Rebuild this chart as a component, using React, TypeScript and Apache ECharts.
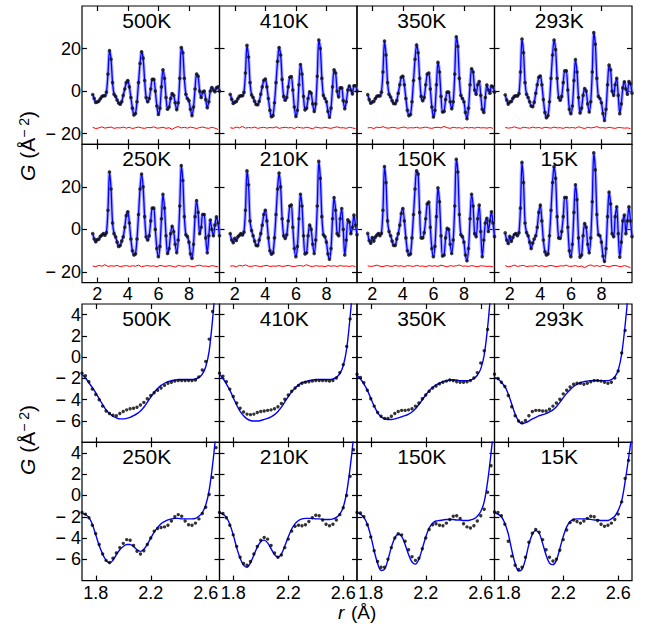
import React, { useEffect, useRef } from "react";
import * as echarts from "echarts";

// ---------- labels ----------
const TEMPS = ["500K", "410K", "350K", "293K", "250K", "210K", "150K", "15K"];

// ---------- tick values ----------
const TOP_X_TICKS = [2, 4, 6, 8];
const TOP_Y_TICKS = [-20, 0, 20];
const LOW_X_TICKS = [1.8, 2.2, 2.6];
const LOW_Y_TICKS = [-6, -4, -2, 0, 2, 4];
const TOP_X_RANGE = [1, 10];
const TOP_Y_RANGE = [-25, 40];
const LOW_X_RANGE = [1.7, 2.7];
const LOW_Y_RANGE = [-8, 5];

// ---------- full-range G(r), r = 1.7 .. 10.0 step 0.1 ----------
const TOP_R0 = 1.7;
const TOP_DR = 0.1;
const G_500K = [
  -1.6, -3.5, -5.3, -5.1, -4.7, -3.6, -2.6, -2.2, -2.2, -0.5,
  8, 19, 15, 4, -1.5, -2.5, -4.2, -5.6, -6.2, -5,
  -2, 1, 4, 5, 2, -3, -8, -11.2, -10.5, -5,
  4, 13, 18.5, 15.5, 5, -3, -5, -3.5, 1, 5.5,
  5.5, 0, -7, -11, -8, 2, 10, 6, -3, -8.5,
  -7.5, -3.5, -1.2, -2, -5.5, -8.7, -5.5, 6, 20.5, 18,
  6, -1.5, -3.5, -4.5, -8.5, -11.5, -7.5, 1, 8, 7,
  0, -3, -0.5, 0, -4, -7.8, -5, 0, 1.7, 0.5,
  -0.3, 1.5, 2, 0,
];
const G_410K = [
  -1.5, -3.8, -5.8, -5.2, -4.9, -3.6, -2.5, -2.2, -2.2, -0.6,
  8.5, 21.5, 16, 4, -1.8, -3, -4.8, -6.3, -6.4, -4.8,
  -1.5, 2, 5, 5.7, 2, -3.5, -9, -12, -11.5, -5.5,
  4, 14, 20.5, 17, 5.5, -2.5, -4.3, -3, 2, 6.5,
  6.8, 0.5, -7.5, -11.9, -9, 3, 12.5, 8, -2.5, -8.8,
  -8, -3.5, -0.3, -1, -6, -9.6, -6, 7, 24, 20,
  6, -2, -3.5, -5, -9.5, -12.3, -8, 2, 10, 8.5,
  0, -2.7, 1.5, 1.5, -4.5, -8.3, -5, 0.5, 2.4, 0.5,
  -1.3, 2.5, 2.5, 0,
];
const G_350K = [
  -1.6, -4, -5.7, -5.1, -4.8, -3.5, -2.5, -2.2, -2.3, -0.5,
  9, 23.5, 17, 4, -1.5, -2.8, -4.5, -5.8, -5.9, -4.5,
  -1, 3, 6.5, 7, 3, -3.5, -9, -11.5, -11, -5,
  5, 15, 21.7, 18, 6, -2.5, -4.5, -3, 3, 8,
  8.5, 1, -7.5, -12.2, -9, 3, 13.5, 9, -2.5, -9.8,
  -9.5, -4, -0.5, -0.5, -5, -8.3, -5, 8, 25.5, 21,
  6, -2, -3.5, -5, -10, -13, -8, 3, 10.5, 9,
  0.5, -1.5, 3, 4.5, -2, -8.5, -10, -3, 2.9, 0.5,
  -1, 2.4, 2, -0.5,
];
const G_293K = [
  -1.7, -4.2, -6.1, -5.1, -4.9, -3.4, -2.5, -2.2, -2.3, -1.2,
  9, 24.5, 18, 4, -1.5, -3, -5, -7, -7.3, -5.2,
  -1, 3, 6.5, 7.1, 3, -4, -10, -12.5, -11.5, -5,
  6, 17, 24, 19.5, 6, -3, -4.3, -2.5, 4, 9.5,
  9.5, 0.5, -8.5, -10.6, -7, 5, 14.8, 9, -3, -10.3,
  -8, -2, 1.2, 0, -6, -9.8, -5, 9, 27.5, 22,
  6, -2.5, -3.5, -5.5, -10.5, -13.8, -8.5, 3, 12.2, 10,
  0, -2, 3, 6, -2, -10.6, -6, 1.5, 4.4, 1,
  -1.5, 4.5, 3.5, -1,
];
const G_250K = [
  -1.9, -4.5, -5.8, -4.8, -4.6, -3.3, -2.7, -2.0, -2.7, -1.5,
  9, 27, 19, 3, -2, -3.5, -6, -8, -7.5, -5.5,
  -3.5, 1, 6.5, 8.3, 3, -4.5, -10, -12, -11.5, -4.5,
  7, 19, 26, 20, 6, -3.5, -5, -3, 4, 10,
  10, 0, -9, -12.8, -8, 5, 16.5, 10, -3, -11.3,
  -9, -2, 1.5, -1, -7, -10.9, -5, 11, 30, 23,
  6, -2.5, -3.4, -6, -11.5, -13.6, -7, 6, 13.5, 8,
  -2, 1, 7, 7, -4, -11, -3, 4.4, 0, -3,
  2, 5.9, 3, -3,
];
const G_210K = [
  -1.9, -5, -6.2, -4.2, -5.2, -3.5, -2.8, -2.0, -2.6, -1.3,
  9, 27.5, 21, 4, -0.5, -3, -5.5, -7.5, -7.6, -5,
  -2, 2, 7, 9, 4, -4, -10, -11.6, -11, -4,
  7, 19, 26.5, 20, 5, -3, -4.2, -2.5, 4, 11,
  11.5, 1, -9, -12.8, -8, 5, 16.5, 11, -3, -11.5,
  -11, -3, 2, 0, -7, -11.3, -5, 11, 32, 24,
  6, -2.5, -3.4, -6, -11.5, -14, -9, 5, 15, 9,
  -2, -3, 5, 9.8, 0, -12, -5, 4.5, 3.5, -2,
  1, 6.7, 2, -2.5,
];
const G_150K = [
  -1.8, -5.2, -6.5, -3.8, -5.5, -3.6, -2.7, -1.9, -2.9, -1.8,
  9, 29.5, 22, 4, -1, -3, -5.5, -7.5, -7.5, -4.5,
  -2, 2, 7.5, 9.8, 4, -4, -10, -12, -11.5, -4,
  7, 19, 27.5, 26, 8, -4, -4, -1.5, 5, 12,
  12.8, 1, -9, -12.8, -8, 6, 19.5, 13, -3, -12.5,
  -12, -4, 0.5, 0, -7, -11.3, -5, 11, 33, 27,
  7, -2.5, -3.4, -6, -12, -14.7, -9, 5, 16.5, 11,
  -2, -3.4, 5, 11.4, -1, -12.8, -5, 3, 5.2, -1,
  4, 8.3, 3, -3.4,
];
const G_15K = [
  -1.6, -5.0, -6.6, -3.3, -5.6, -3.8, -2.4, -1.9, -2.9, -1.6,
  10, 31.5, 22, 3, -1.5, -3, -6, -9, -6.5, -4.5,
  -3, 1, 8, 11.4, 4, -5, -10.5, -12, -11.5, -3,
  9, 22, 29.5, 24, 6, -4, -4.2, -1, 6, 15,
  15, 1, -10, -12.8, -7, 8, 21, 14, -4, -13,
  -12, -3, 2.8, 1, -7, -11, -4, 13, 36, 28,
  7, -2.5, -3, -6, -12.5, -15, -9, 6, 17.5, 12,
  -2, -3.4, 6, 10.6, -2, -13, -6, 4, 6.7, -2,
  4, 10.6, 4, -3.4,
];
const TOP_DATA = [G_500K, G_410K, G_350K, G_293K, G_250K, G_210K, G_150K, G_15K];

// ---------- difference curves (offset), r = 1.7 .. 9.9 step 0.2 ----------
const DIFF_R0 = 1.7;
const DIFF_DR = 0.2;
const DIFF_A = [
  -17.0, -17.6, -17.3, -16.8, -17.4, -17.1, -16.9, -17.5, -17.2, -17.3,
  -16.9, -17.4, -17.0, -17.6, -17.2, -16.9, -17.3, -17.5, -17.1, -17.2,
  -16.8, -17.4, -17.3, -17.0, -17.5, -17.2, -18.0, -17.1, -16.7, -17.3,
  -17.0, -17.4, -16.9, -17.2, -17.6, -17.1, -16.9, -17.3, -17.5, -17.0,
  -17.4, -18.0,
];
const DIFF_B = [
  -17.2, -17.5, -16.9, -17.3, -16.6, -17.4, -17.1, -17.3, -16.9, -17.5,
  -17.2, -17.0, -17.4, -17.1, -17.3, -16.8, -17.5, -17.2, -17.0, -17.3,
  -17.1, -17.6, -16.9, -17.2, -17.4, -17.0, -17.3, -17.7, -16.9, -17.2,
  -17.4, -17.0, -17.3, -17.5, -17.1, -16.8, -17.3, -17.2, -17.5, -17.0,
  -17.3, -17.6,
];
const DIFF_C = [
  -17.3, -17.1, -17.6, -16.9, -17.2, -16.7, -17.3, -17.4, -17.0, -17.2,
  -17.5, -17.1, -16.9, -17.4, -17.2, -17.3, -17.0, -17.4, -17.2, -16.9,
  -17.3, -17.5, -17.1, -17.0, -17.3, -16.6, -17.2, -17.5, -17.0, -17.3,
  -17.2, -17.5, -17.0, -17.3, -17.1, -17.4, -17.0, -17.3, -17.2, -17.4,
  -17.1, -17.5,
];
const DIFF_D = [
  -17.1, -17.4, -17.2, -16.8, -17.3, -17.5, -17.0, -17.2, -17.4, -16.9,
  -17.3, -17.1, -17.5, -17.0, -17.2, -17.4, -16.9, -17.3, -17.2, -17.5,
  -17.0, -17.3, -17.1, -17.4, -16.8, -17.2, -17.6, -17.0, -17.3, -17.1,
  -16.7, -17.3, -17.2, -17.4, -17.0, -17.3, -17.5, -17.1, -17.2, -17.4,
  -17.3, -17.6,
];
const TOP_DIFF = [DIFF_A, DIFF_B, DIFF_C, DIFF_D, DIFF_B, DIFF_C, DIFF_D, DIFF_A];

// ---------- low-r detail, r = 1.700 .. 2.700 step 0.025 ----------
const LOW_R0 = 1.7;
const LOW_DR = 0.025;
const LOW_DATA_500K = [
  -1.5, -1.75, -2.3, -3.0, -3.5, -4.0, -4.6, -5.05, -5.3, -5.45,
  -5.5, -5.3, -5.1, -4.95, -4.85, -4.8, -4.7, -4.5, -4.25, -3.9,
  -3.6, -3.35, -3.1, -2.9, -2.65, -2.45, -2.35, -2.25, -2.2, -2.2,
  -2.2, -2.2, -2.2, -2.15, -1.85, -1.2, -0.4, 1.7, 4.3, 7.0,
  10,
];
const LOW_FIT_500K = [
  -1.6, -1.95, -2.4, -2.85, -3.35, -3.9, -4.45, -4.95, -5.3, -5.55,
  -5.7, -5.8, -5.8, -5.75, -5.65, -5.5, -5.3, -5.05, -4.7, -4.25,
  -3.75, -3.3, -2.95, -2.65, -2.45, -2.3, -2.2, -2.15, -2.1, -2.1,
  -2.1, -2.1, -2.1, -2.05, -1.9, -1.6, -0.9, 0.6, 3.6, 7.5,
  12,
];
const LOW_DATA_410K = [
  -1.5, -1.8, -2.3, -3.0, -3.7, -4.3, -4.8, -5.15, -5.35, -5.4,
  -5.35, -5.2, -5.1, -5.05, -5.0, -4.95, -4.85, -4.65, -4.35, -3.95,
  -3.55, -3.2, -2.9, -2.65, -2.45, -2.35, -2.3, -2.25, -2.2, -2.2,
  -2.2, -2.2, -2.25, -2.2, -1.95, -1.45, -0.7, 1.0, 3.6, 6.5,
  10,
];
const LOW_FIT_410K = [
  -1.6, -2.0, -2.5, -3.1, -3.8, -4.5, -5.1, -5.5, -5.8, -5.95,
  -6.0, -6.0, -5.95, -5.85, -5.75, -5.6, -5.4, -5.1, -4.7, -4.2,
  -3.7, -3.25, -2.9, -2.6, -2.4, -2.3, -2.2, -2.15, -2.1, -2.1,
  -2.1, -2.1, -2.1, -2.05, -1.9, -1.55, -0.8, 0.8, 3.8, 7.5,
  12,
];
const LOW_DATA_350K = [
  -1.6, -1.9, -2.4, -3.1, -3.9, -4.6, -5.2, -5.55, -5.75, -5.75,
  -5.55, -5.3, -5.1, -5.0, -5.0, -4.95, -4.85, -4.6, -4.3, -3.9,
  -3.55, -3.2, -2.9, -2.7, -2.5, -2.35, -2.25, -2.15, -2.2, -2.3,
  -2.35, -2.35, -2.3, -2.2, -1.95, -1.45, -0.55, 0.6, 2.6, 5.5,
  9,
];
const LOW_FIT_350K = [
  -1.7, -2.05, -2.5, -3.1, -3.85, -4.6, -5.2, -5.6, -5.8, -5.85,
  -5.85, -5.8, -5.7, -5.6, -5.5, -5.35, -5.15, -4.85, -4.45, -4.0,
  -3.55, -3.15, -2.85, -2.6, -2.45, -2.3, -2.2, -2.15, -2.15, -2.15,
  -2.2, -2.2, -2.2, -2.15, -2.0, -1.7, -1.1, 0.2, 2.8, 6.5,
  11,
];
const LOW_DATA_293K = [
  -1.6, -2.0, -2.35, -2.75, -3.6, -4.65, -5.5, -6.0, -6.15, -5.95,
  -5.5, -5.1, -5.0, -5.0, -5.05, -5.05, -4.9, -4.6, -4.3, -3.95,
  -3.45, -3.1, -2.8, -2.55, -2.45, -2.45, -2.55, -2.45, -2.3, -2.2,
  -2.2, -2.25, -2.35, -2.45, -2.35, -1.95, -1.3, 0.4, 2.5, 5.5,
  9,
];
const LOW_FIT_293K = [
  -1.9, -2.05, -2.35, -2.75, -3.45, -4.4, -5.35, -6.0, -6.25, -6.15,
  -6.0, -5.8, -5.65, -5.5, -5.4, -5.3, -5.15, -4.95, -4.65, -4.25,
  -3.8, -3.4, -3.05, -2.75, -2.55, -2.4, -2.3, -2.25, -2.2, -2.2,
  -2.2, -2.2, -2.2, -2.2, -2.1, -1.85, -1.2, 0.3, 3.0, 6.5,
  11,
];
const LOW_DATA_250K = [
  -1.6, -1.75, -2.1, -2.8, -3.6, -4.6, -5.5, -6.1, -6.3, -5.9,
  -5.4, -4.9, -4.5, -4.15, -4.2, -4.7, -5.25, -5.5, -5.2, -4.6,
  -4.0, -3.35, -3.1, -3.0, -2.95, -2.8, -2.4, -2.0, -1.8, -1.95,
  -2.4, -2.75, -2.8, -2.6, -2.2, -1.7, -1.1, 0.1, 1.7, 4.5,
  8,
];
const LOW_FIT_250K = [
  -1.65, -1.8, -2.05, -2.7, -3.7, -4.7, -5.5, -6.1, -6.35, -6.1,
  -5.55, -5.1, -4.8, -4.6, -4.6, -4.8, -5.1, -5.25, -5.05, -4.6,
  -4.0, -3.45, -3.0, -2.65, -2.45, -2.3, -2.2, -2.15, -2.15, -2.2,
  -2.2, -2.2, -2.2, -2.15, -1.95, -1.6, -0.9, 0.5, 2.9, 6.0,
  10,
];
const LOW_DATA_210K = [
  -1.6, -1.7, -2.1, -2.8, -3.7, -4.8, -5.8, -6.4, -6.55, -6.2,
  -5.5, -4.8, -4.2, -3.95, -4.1, -4.7, -5.4, -5.8, -5.6, -4.9,
  -4.1, -3.35, -2.9, -2.8, -2.85, -2.75, -2.45, -2.1, -1.85, -1.9,
  -2.3, -2.7, -2.85, -2.7, -2.3, -1.8, -1.15, 0.0, 1.8, 4.3,
  7.5,
];
const LOW_FIT_210K = [
  -1.6, -1.75, -2.05, -2.7, -3.7, -4.9, -5.9, -6.55, -6.75, -6.35,
  -5.6, -4.85, -4.35, -4.2, -4.45, -5.0, -5.55, -5.8, -5.5, -4.75,
  -3.9, -3.15, -2.65, -2.35, -2.2, -2.15, -2.15, -2.15, -2.2, -2.2,
  -2.25, -2.25, -2.25, -2.2, -2.05, -1.75, -1.1, 0.3, 2.6, 5.5,
  9,
];
const LOW_DATA_150K = [
  -1.6, -1.65, -2.0, -2.75, -3.9, -5.2, -6.2, -6.75, -6.75, -6.0,
  -4.9, -4.0, -3.6, -3.7, -4.3, -5.1, -5.75, -6.1, -5.9, -5.0,
  -4.0, -3.2, -2.75, -2.65, -2.8, -2.85, -2.6, -2.25, -1.95, -1.9,
  -2.15, -2.65, -2.95, -3.05, -2.85, -2.4, -1.9, -1.3, 0.3, 2.8,
  6,
];
const LOW_FIT_150K = [
  -1.6, -1.75, -2.05, -2.7, -3.8, -5.2, -6.4, -7.05, -6.95, -6.05,
  -4.85, -4.0, -3.65, -3.85, -4.6, -5.55, -6.25, -6.45, -6.0, -5.0,
  -3.9, -3.05, -2.6, -2.4, -2.35, -2.3, -2.25, -2.25, -2.25, -2.3,
  -2.3, -2.35, -2.35, -2.3, -2.2, -1.95, -1.5, -0.6, 1.3, 4.0,
  7,
];
const LOW_DATA_15K = [
  -1.55, -1.6, -1.9, -2.7, -4.3, -5.7, -6.55, -6.95, -6.75, -5.8,
  -4.4, -3.55, -3.2, -3.45, -4.15, -5.1, -5.8, -6.15, -6.0, -5.15,
  -4.15, -3.25, -2.55, -2.3, -2.45, -2.6, -2.4, -2.15, -1.95, -2.0,
  -2.35, -2.7, -2.9, -2.8, -2.6, -2.25, -1.75, -0.6, 1.6, 3.3,
  5.5,
];
const LOW_FIT_15K = [
  -1.6, -1.75, -2.0, -2.6, -3.6, -5.1, -6.4, -7.1, -6.95, -6.0,
  -4.6, -3.65, -3.3, -3.55, -4.5, -5.6, -6.35, -6.5, -6.1, -5.0,
  -3.85, -2.95, -2.45, -2.25, -2.2, -2.2, -2.2, -2.2, -2.25, -2.3,
  -2.3, -2.35, -2.35, -2.35, -2.2, -1.95, -1.4, -0.5, 1.3, 3.5,
  5.8,
];
const LOW_DATA = [LOW_DATA_500K, LOW_DATA_410K, LOW_DATA_350K, LOW_DATA_293K, LOW_DATA_250K, LOW_DATA_210K, LOW_DATA_150K, LOW_DATA_15K];
const LOW_FIT = [LOW_FIT_500K, LOW_FIT_410K, LOW_FIT_350K, LOW_FIT_293K, LOW_FIT_250K, LOW_FIT_210K, LOW_FIT_150K, LOW_FIT_15K];

// ---------- layout ----------
const FONT = "'Liberation Sans', Arial, Helvetica, sans-serif";
const COL_LEFTS = [82, 219.5, 357, 494.5];
const COL_W = 137.5;
const ROW_TOPS = [6, 144.3, 304, 442.3];
const ROW_H = 138.3;

function pairs(r0: number, dr: number, vals: number[]) {
  return vals.map((v, i) => [Math.round((r0 + i * dr) * 1000) / 1000, v]);
}
const fmtY = (v: number) => (v < 0 ? "\u2212 " + Math.abs(v) : String(v));
const fmtXTop = (v: number) => String(v);
const fmtXLow = (v: number) => v.toFixed(1);

function makeAxis(gridIndex: number, position: string, range: number[], ticks: number[], showLabel: boolean, fmt: (v: number) => string, margin: number) {
  return {
    type: "value",
    gridIndex,
    position,
    min: range[0],
    max: range[1],
    axisLine: { show: false, onZero: false },
    splitLine: { show: false },
    axisTick: { show: true, inside: true, length: 5, customValues: ticks, lineStyle: { color: "#000", width: 1.2 } },
    axisLabel: {
      show: showLabel,
      customValues: ticks,
      formatter: fmt,
      color: "#000",
      fontSize: 18,
      fontFamily: FONT,
      margin,
    },
  };
}

function buildOption() {
  const grid: any[] = [];
  const xAxis: any[] = [];
  const yAxis: any[] = [];
  const series: any[] = [];
  const elements: any[] = [];

  for (let p = 0; p < 16; p++) {
    const row = Math.floor(p / 4);
    const col = p % 4;
    const isTop = row < 2;
    const k = (row % 2) * 4 + col;
    const left = COL_LEFTS[col];
    const top = ROW_TOPS[row];
    grid.push({ left, top, width: COL_W, height: ROW_H, show: true, borderColor: "#000", borderWidth: 1.2, backgroundColor: "transparent" });

    const xr = isTop ? TOP_X_RANGE : LOW_X_RANGE;
    const yr = isTop ? TOP_Y_RANGE : LOW_Y_RANGE;
    const xt = isTop ? TOP_X_TICKS : LOW_X_TICKS;
    const yt = isTop ? TOP_Y_TICKS : LOW_Y_TICKS;
    const fx = isTop ? fmtXTop : fmtXLow;
    const showX = row === 1 || row === 3;
    const showY = col === 0;
    xAxis.push(makeAxis(p, "bottom", xr, xt, showX, fx, isTop ? 2 : 3));
    xAxis.push(makeAxis(p, "top", xr, xt, false, fx, 3));
    yAxis.push(makeAxis(p, "left", yr, yt, showY, fmtY, 1));
    yAxis.push(makeAxis(p, "right", yr, yt, false, fmtY, 3));
    const xi = 2 * p;
    const yi = 2 * p;

    if (isTop) {
      const d = pairs(TOP_R0, TOP_DR, TOP_DATA[k]);
      series.push({ type: "line", xAxisIndex: xi, yAxisIndex: yi, data: d, smooth: 0.3, symbol: "none", silent: true, z: 2,
        lineStyle: { color: "#8a8aff", width: 3.4, opacity: 0.7 } });
      series.push({ type: "line", xAxisIndex: xi, yAxisIndex: yi, data: d, smooth: 0.3, symbol: "none", silent: true, z: 3,
        lineStyle: { color: "#0000ff", width: 1.3 } });
      series.push({ type: "scatter", xAxisIndex: xi, yAxisIndex: yi, data: d, symbolSize: 3.6, silent: true, z: 4,
        itemStyle: { color: "#111" } });
      series.push({ type: "line", xAxisIndex: xi, yAxisIndex: yi, data: pairs(DIFF_R0, DIFF_DR, TOP_DIFF[k]), symbol: "none", silent: true, z: 3,
        lineStyle: { color: "#ff0000", width: 1 } });
    } else {
      series.push({ type: "line", xAxisIndex: xi, yAxisIndex: yi, data: pairs(LOW_R0, LOW_DR, LOW_FIT[k]), smooth: 0.3, symbol: "none", silent: true, z: 3, clip: true,
        lineStyle: { color: "#0000ff", width: 1.4 } });
      series.push({ type: "scatter", xAxisIndex: xi, yAxisIndex: yi, data: pairs(LOW_R0, LOW_DR, LOW_DATA[k]), symbolSize: 3.4, silent: true, z: 4, clip: true,
        itemStyle: { color: "#000" } });
    }

    elements.push({
      type: "text",
      x: left + COL_W / 2 - 4,
      y: top + 4,
      z: 10,
      style: { text: TEMPS[k], fill: "#000", fontSize: 21, fontFamily: FONT, textAlign: "center", textVerticalAlign: "top" },
    });
  }

  const yTitle = (cy: number) => ({
    type: "text",
    x: 27,
    y: cy,
    rotation: Math.PI / 2,
    z: 10,
    style: {
      text: "{g|G} (Å{s|\u2212 2})",
      fill: "#000",
      fontSize: 21,
      fontFamily: FONT,
      textAlign: "center",
      textVerticalAlign: "middle",
      rich: {
        g: { fontStyle: "italic", fontSize: 21, fontFamily: FONT, fill: "#000" },
        s: { fontSize: 14, fontFamily: FONT, verticalAlign: "top", fill: "#000" },
      },
    },
  });
  elements.push(yTitle(146));
  elements.push(yTitle(440));
  // x-axis title: italic "r" followed by "(Å)"
  elements.push({
    type: "text",
    x: 338,
    y: 603,
    z: 10,
    style: { text: "r", fill: "#000", fontSize: 19, fontFamily: FONT, fontStyle: "italic", textAlign: "left", textVerticalAlign: "top" },
  });
  elements.push({
    type: "text",
    x: 351,
    y: 603,
    z: 10,
    style: { text: "(Å)", fill: "#000", fontSize: 19, fontFamily: FONT, textAlign: "left", textVerticalAlign: "top" },
  });

  return {
    animation: false,
    backgroundColor: "#fff",
    grid,
    xAxis,
    yAxis,
    series,
    graphic: { elements },
  };
}

export default function App() {
  const ref = useRef<HTMLDivElement>(null);
  useEffect(() => {
    document.body.style.margin = "0";
    const chart = echarts.init(ref.current as HTMLDivElement, null, { renderer: "svg" });
    chart.setOption(buildOption() as any);
    return () => chart.dispose();
  }, []);
  return <div ref={ref} style={{ width: 646, height: 631 }} />;
}
